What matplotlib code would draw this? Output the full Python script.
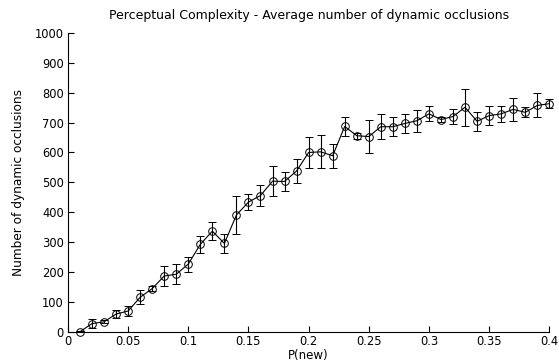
import numpy as np
import matplotlib
matplotlib.use("Agg")
import matplotlib.pyplot as plt

plt.rcParams["font.family"] = ["DejaVu Sans"]

# P(new) values and mean occlusion counts with their error half-widths
p_new = [0.01, 0.02, 0.03, 0.04, 0.05, 0.06, 0.07, 0.08, 0.09, 0.10,
         0.11, 0.12, 0.13, 0.14, 0.15, 0.16, 0.17, 0.18, 0.19, 0.20,
         0.21, 0.22, 0.23, 0.24, 0.25, 0.26, 0.27, 0.28, 0.29, 0.30,
         0.31, 0.32, 0.33, 0.34, 0.35, 0.36, 0.37, 0.38, 0.39, 0.40]
occlusions = [1, 28, 34, 60, 70, 116, 145, 187, 193, 227,
              293, 337, 296, 391, 434, 456, 504, 503, 538, 600,
              602, 589, 687, 656, 653, 686, 686, 697, 706, 729,
              710, 720, 751, 704, 723, 729, 744, 734, 757, 763]
err = [2, 15, 5, 14, 18, 24, 8, 32, 34, 25,
       28, 29, 31, 64, 28, 36, 50, 31, 41, 51,
       55, 40, 33, 10, 54, 41, 32, 31, 37, 25,
       8, 25, 62, 32, 31, 27, 38, 17, 40, 14]

x_ticks = [0, 0.05, 0.1, 0.15, 0.2, 0.25, 0.3, 0.35, 0.4]
x_tick_labels = ["0", "0.05", "0.1", "0.15", "0.2", "0.25", "0.3", "0.35", "0.4"]
y_ticks = np.arange(0, 1001, 100)

fig = plt.figure(figsize=(5.59, 3.64), dpi=100)
ax = fig.add_axes([0.1216, 0.088, 0.861, 0.822])

line, caps, bars = ax.errorbar(
    p_new, occlusions, yerr=err, color="black", linewidth=0.8,
    elinewidth=0.8, capsize=3.2, capthick=0.8,
    marker="o", markersize=5.5, markerfacecolor="none",
    markeredgecolor="black", markeredgewidth=0.7)
# keep the last marker and its caps whole at the right edge
for artist in [line, *caps, *bars]:
    artist.set_clip_on(False)

ax.set_xlim(0, 0.4)
ax.set_ylim(0, 1000)
ax.set_xticks(x_ticks)
ax.set_xticklabels(x_tick_labels)
ax.set_yticks(y_ticks)

for side in ("top", "right"):
    ax.spines[side].set_visible(False)
for side in ("left", "bottom"):
    ax.spines[side].set_linewidth(0.8)

ax.tick_params(direction="in", length=4, width=0.8, labelsize=8.3)
ax.tick_params(axis="x", pad=2.5)
ax.tick_params(axis="y", pad=3)
ax.set_xlabel("P(new)", fontsize=8.5)
ax.xaxis.set_label_coords(0.5, -0.058)
ax.set_ylabel("Number of dynamic occlusions", fontsize=8.7, labelpad=7)
ax.set_title("Perceptual Complexity - Average number of dynamic occlusions",
             fontsize=9, pad=10)

fig.savefig("out.png", dpi=100)
